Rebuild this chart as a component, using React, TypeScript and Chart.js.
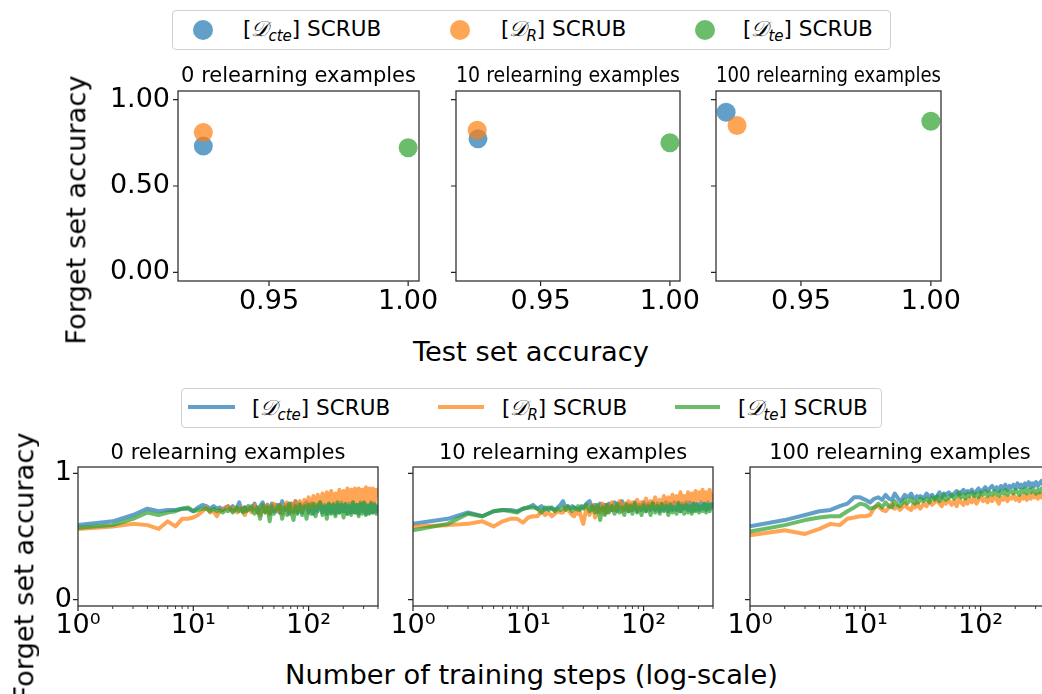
import React, { useEffect, useRef } from "react";
import { Chart, registerables } from "chart.js";

Chart.register(...registerables);

const FONT = "'DejaVu Sans', 'Liberation Sans', sans-serif";

// ---------------- DATA ----------------
const PANEL_TITLES = ["0 relearning examples", "10 relearning examples", "100 relearning examples"];
const SERIES_SUBS = ["cte", "R", "te"];
const SERIES_COLORS = ["rgba(31,119,180,0.7)", "rgba(255,127,14,0.7)", "rgba(44,160,44,0.7)"];

// Top row: test set accuracy (x) vs forget set accuracy (y), order: cte, R, te
const TEST_ACC_0 = [0.9264, 0.9264, 1.0];
const FORGET_ACC_0 = [0.731, 0.81, 0.721];
const TEST_ACC_10 = [0.9258, 0.9255, 1.0];
const FORGET_ACC_10 = [0.773, 0.823, 0.75];
const TEST_ACC_100 = [0.9212, 0.9254, 1.0];
const FORGET_ACC_100 = [0.927, 0.85, 0.875];

const SCATTER_X_TICKS = [0.95, 1.0];
const SCATTER_Y_TICKS = [0, 0.5, 1.0];
const LINE_Y_TICKS = [0, 1];
const LOG_MAJOR_TICKS = [1, 10, 100];
const LOG_MINOR_TICKS = [2, 3, 4, 5, 6, 7, 8, 9, 20, 30, 40, 50, 60, 70, 80, 90, 200, 300, 400];

// Bottom row: training steps (x) vs forget set accuracy
const STEPS = [1, 2, 3, 4, 5, 6, 7, 8, 9, 10, 11, 12, 13, 14, 15, 16, 17, 18, 19, 20, 21, 22, 23, 24, 25, 26, 27, 28, 29, 30,
  32, 34, 36, 38, 40, 42, 44, 46, 48, 50,
  53, 56, 59, 62, 65, 68, 71, 74, 77, 80,
  84, 88, 92, 96, 100,
  105, 110, 115, 120,
  126, 132, 138, 144, 150,
  157, 164, 171, 178, 185,
  193, 201, 209, 217, 225,
  234, 243, 252,
  262, 272, 282, 292,
  303, 314, 325,
  337, 349, 361,
  374, 387, 400];

const CTE_0 = [0.59, 0.62, 0.67, 0.72, 0.70, 0.71, 0.71, 0.72, 0.72, 0.70, 0.73, 0.75, 0.74, 0.72, 0.74, 0.72, 0.73, 0.71, 0.73, 0.74, 0.72, 0.74, 0.71, 0.73, 0.77, 0.72, 0.70, 0.73, 0.71, 0.74,
  0.71, 0.76, 0.69, 0.74, 0.77, 0.70, 0.75, 0.68, 0.76, 0.70,
  0.75, 0.69, 0.78, 0.71, 0.75, 0.68, 0.76, 0.70, 0.78, 0.69,
  0.76, 0.69, 0.75, 0.77, 0.69,
  0.76, 0.68, 0.75, 0.70,
  0.77, 0.69, 0.75, 0.68, 0.76,
  0.69, 0.76, 0.68, 0.75, 0.69,
  0.77, 0.70, 0.75, 0.68, 0.76,
  0.69, 0.77, 0.69,
  0.75, 0.68, 0.77, 0.70,
  0.76, 0.68, 0.75,
  0.69, 0.77, 0.69,
  0.76, 0.70, 0.75];
const R_0 = [0.56, 0.58, 0.60, 0.59, 0.56, 0.62, 0.58, 0.64, 0.64, 0.65, 0.67, 0.70, 0.73, 0.69, 0.70, 0.66, 0.70, 0.72, 0.72, 0.74, 0.71, 0.70, 0.73, 0.69, 0.72, 0.73, 0.70, 0.67, 0.71, 0.73,
  0.69, 0.75, 0.70, 0.67, 0.74, 0.69, 0.75, 0.68, 0.73, 0.76,
  0.70, 0.75, 0.68, 0.74, 0.77, 0.70, 0.76, 0.69, 0.78, 0.72,
  0.78, 0.71, 0.79, 0.73, 0.81,
  0.73, 0.82, 0.74, 0.83,
  0.75, 0.84, 0.76, 0.85, 0.77,
  0.86, 0.76, 0.84, 0.77, 0.87,
  0.77, 0.86, 0.78, 0.88, 0.77,
  0.87, 0.77, 0.88,
  0.78, 0.88, 0.77, 0.87,
  0.78, 0.89, 0.77,
  0.88, 0.78, 0.88,
  0.77, 0.87, 0.81];
const TE_0 = [0.57, 0.59, 0.64, 0.69, 0.67, 0.69, 0.70, 0.72, 0.73, 0.70, 0.71, 0.72, 0.72, 0.70, 0.72, 0.70, 0.71, 0.69, 0.71, 0.70, 0.72, 0.69, 0.71, 0.73, 0.70, 0.72, 0.69, 0.73, 0.70, 0.71,
  0.74, 0.68, 0.73, 0.64, 0.75, 0.69, 0.73, 0.62, 0.74, 0.68,
  0.72, 0.75, 0.64, 0.73, 0.67, 0.76, 0.69, 0.63, 0.74, 0.68,
  0.75, 0.67, 0.74, 0.64, 0.75,
  0.68, 0.76, 0.66, 0.74,
  0.77, 0.67, 0.74, 0.64, 0.76,
  0.68, 0.75, 0.66, 0.77, 0.69,
  0.75, 0.65, 0.76, 0.68, 0.74,
  0.67, 0.77, 0.69,
  0.75, 0.66, 0.76, 0.68,
  0.77, 0.67, 0.74,
  0.68, 0.76, 0.69,
  0.75, 0.68, 0.75];

const CTE_10 = [0.60, 0.64, 0.69, 0.66, 0.70, 0.71, 0.71, 0.70, 0.72, 0.73, 0.75, 0.72, 0.74, 0.71, 0.73, 0.72, 0.71, 0.73, 0.75, 0.78, 0.73, 0.74, 0.72, 0.74, 0.73, 0.72, 0.71, 0.72, 0.74, 0.73,
  0.76, 0.78, 0.71, 0.75, 0.70, 0.76, 0.71, 0.75, 0.69, 0.76,
  0.71, 0.77, 0.70, 0.75, 0.78, 0.71, 0.76, 0.70, 0.75, 0.71,
  0.77, 0.70, 0.75, 0.71, 0.77,
  0.70, 0.76, 0.71, 0.77,
  0.71, 0.76, 0.70, 0.75, 0.71,
  0.77, 0.70, 0.76, 0.71, 0.77,
  0.71, 0.77, 0.70, 0.76, 0.72,
  0.77, 0.71, 0.77,
  0.70, 0.76, 0.71, 0.76,
  0.71, 0.77, 0.72,
  0.76, 0.71, 0.77,
  0.72, 0.76, 0.74];
const R_10 = [0.58, 0.59, 0.60, 0.62, 0.58, 0.62, 0.64, 0.64, 0.61, 0.65, 0.66, 0.66, 0.70, 0.67, 0.69, 0.66, 0.68, 0.70, 0.69, 0.69, 0.72, 0.71, 0.69, 0.67, 0.66, 0.70, 0.68, 0.69, 0.64, 0.60,
  0.73, 0.67, 0.75, 0.65, 0.74, 0.69, 0.76, 0.68, 0.75, 0.70,
  0.77, 0.71, 0.75, 0.78, 0.70, 0.76, 0.72, 0.78, 0.71, 0.77,
  0.73, 0.79, 0.72, 0.77, 0.74,
  0.80, 0.73, 0.78, 0.74,
  0.81, 0.74, 0.79, 0.75, 0.82,
  0.75, 0.81, 0.76, 0.83, 0.76,
  0.82, 0.77, 0.85, 0.76, 0.82,
  0.77, 0.85, 0.78,
  0.84, 0.77, 0.86, 0.79,
  0.85, 0.78, 0.87,
  0.79, 0.85, 0.78,
  0.87, 0.79, 0.84];
const TE_10 = [0.55, 0.60, 0.68, 0.66, 0.70, 0.71, 0.70, 0.69, 0.72, 0.73, 0.73, 0.72, 0.69, 0.73, 0.71, 0.73, 0.70, 0.72, 0.71, 0.73, 0.71, 0.74, 0.72, 0.70, 0.73, 0.72, 0.74, 0.71, 0.73, 0.72,
  0.75, 0.70, 0.74, 0.69, 0.75, 0.63, 0.73, 0.67, 0.75, 0.69,
  0.74, 0.68, 0.76, 0.69, 0.73, 0.67, 0.75, 0.70, 0.74, 0.68,
  0.76, 0.69, 0.73, 0.67, 0.75,
  0.70, 0.74, 0.67, 0.76,
  0.69, 0.74, 0.68, 0.76, 0.70,
  0.74, 0.67, 0.75, 0.69, 0.73,
  0.68, 0.76, 0.70, 0.74, 0.68,
  0.75, 0.69, 0.74,
  0.68, 0.76, 0.70, 0.75,
  0.69, 0.74, 0.70,
  0.76, 0.69, 0.75,
  0.70, 0.75, 0.72];

const CTE_100 = [0.58, 0.63, 0.67, 0.70, 0.71, 0.74, 0.76, 0.81, 0.81, 0.79, 0.77, 0.80, 0.81, 0.79, 0.83, 0.80, 0.79, 0.84, 0.81, 0.78, 0.80, 0.83, 0.81, 0.82, 0.84, 0.81, 0.80, 0.82, 0.81, 0.82,
  0.80, 0.84, 0.81, 0.83, 0.80, 0.82, 0.85, 0.81, 0.84, 0.83,
  0.85, 0.82, 0.84, 0.86, 0.83, 0.85, 0.87, 0.84, 0.86, 0.85,
  0.87, 0.84, 0.86, 0.88, 0.85,
  0.87, 0.89, 0.86, 0.88,
  0.90, 0.87, 0.89, 0.86, 0.90,
  0.88, 0.91, 0.87, 0.90, 0.89,
  0.91, 0.88, 0.92, 0.89, 0.91,
  0.89, 0.92, 0.90,
  0.93, 0.89, 0.92, 0.90,
  0.93, 0.90, 0.92,
  0.94, 0.91, 0.93,
  0.91, 0.94, 0.92];
const R_100 = [0.51, 0.55, 0.52, 0.56, 0.60, 0.59, 0.64, 0.65, 0.66, 0.66, 0.67, 0.73, 0.74, 0.71, 0.70, 0.73, 0.76, 0.72, 0.74, 0.71, 0.73, 0.76, 0.73, 0.72, 0.71, 0.75, 0.73, 0.77, 0.74, 0.72,
  0.76, 0.74, 0.78, 0.75, 0.77, 0.79, 0.76, 0.74, 0.78, 0.76,
  0.79, 0.75, 0.78, 0.74, 0.80, 0.77, 0.75, 0.79, 0.76, 0.80,
  0.77, 0.81, 0.76, 0.79, 0.82,
  0.78, 0.80, 0.77, 0.81,
  0.78, 0.82, 0.79, 0.76, 0.81,
  0.79, 0.82, 0.78, 0.81, 0.80,
  0.83, 0.79, 0.81, 0.78, 0.82,
  0.80, 0.83, 0.79,
  0.82, 0.80, 0.84, 0.81,
  0.83, 0.80, 0.84,
  0.81, 0.83, 0.80,
  0.84, 0.81, 0.83];
const TE_100 = [0.54, 0.59, 0.63, 0.65, 0.66, 0.66, 0.70, 0.73, 0.76, 0.75, 0.72, 0.73, 0.76, 0.73, 0.77, 0.74, 0.73, 0.78, 0.75, 0.74, 0.77, 0.79, 0.76, 0.78, 0.80, 0.77, 0.76, 0.78, 0.77, 0.80,
  0.78, 0.80, 0.77, 0.81, 0.79, 0.82, 0.78, 0.80, 0.83, 0.79,
  0.81, 0.83, 0.80, 0.82, 0.85, 0.81, 0.83, 0.80, 0.84, 0.82,
  0.85, 0.82, 0.84, 0.81, 0.85,
  0.83, 0.86, 0.82, 0.85,
  0.83, 0.86, 0.84, 0.82, 0.86,
  0.84, 0.87, 0.83, 0.85, 0.86,
  0.84, 0.87, 0.85, 0.83, 0.87,
  0.85, 0.88, 0.84,
  0.87, 0.85, 0.88, 0.86,
  0.84, 0.87, 0.85,
  0.88, 0.85, 0.87,
  0.86, 0.88, 0.87];

const SCATTER_SETS = [
  [TEST_ACC_0, FORGET_ACC_0],
  [TEST_ACC_10, FORGET_ACC_10],
  [TEST_ACC_100, FORGET_ACC_100],
];
const LINE_SETS = [
  [CTE_0, R_0, TE_0],
  [CTE_10, R_10, TE_10],
  [CTE_100, R_100, TE_100],
];

// axis limits
const SC_X_MIN = 0.9173, SC_X_MAX = 1.0039;
const Y_MIN = -0.05, Y_MAX = 1.05;
const LOG_X_MIN = 1, LOG_X_MAX = 400;

const SUP = ["\u2070", "\u00B9", "\u00B2", "\u00B3"];

// ---------------- LAYOUT ----------------
type Geo = { left: number; top: number; w: number; h: number; lm: number; rm: number; bm: number; th: number; xpad: number };

const TITLE_SIZE = 21;
const TICK_SIZE = 27;

const TOP_GEOS: Geo[] = [
  { left: 178, top: 91, w: 241, h: 190, lm: 100, rm: 40, bm: 50, th: 27, xpad: 4.5 },
  { left: 456, top: 91, w: 224, h: 190, lm: 15, rm: 40, bm: 50, th: 27, xpad: 4.5 },
  { left: 716, top: 91, w: 225, h: 190, lm: 15, rm: 40, bm: 50, th: 27, xpad: 4.5 },
];
const BOT_GEOS: Geo[] = [
  { left: 78, top: 467, w: 300, h: 139, lm: 75, rm: 25, bm: 50, th: 26, xpad: 3.5 },
  { left: 413, top: 467, w: 300, h: 139, lm: 40, rm: 25, bm: 50, th: 26, xpad: 3.5 },
  { left: 750, top: 467, w: 300, h: 139, lm: 40, rm: 25, bm: 50, th: 26, xpad: 3.5 },
];

function axesPlugin(xMajor: number[], xMinor: number[], yMajor: number[]) {
  return {
    id: "mplAxes",
    afterDraw(chart: any) {
      const { ctx, chartArea: a, scales } = chart;
      const xs = scales.x, ys = scales.y;
      ctx.save();
      ctx.strokeStyle = "#222";
      ctx.lineWidth = 1.2;
      ctx.beginPath();
      for (const v of xMajor) {
        const p = xs.getPixelForValue(v);
        ctx.moveTo(p, a.bottom);
        ctx.lineTo(p, a.bottom + 5);
      }
      for (const v of yMajor) {
        const p = ys.getPixelForValue(v);
        ctx.moveTo(a.left, p);
        ctx.lineTo(a.left - 5, p);
      }
      ctx.stroke();
      ctx.lineWidth = 0.9;
      ctx.beginPath();
      for (const v of xMinor) {
        const p = xs.getPixelForValue(v);
        ctx.moveTo(p, a.bottom);
        ctx.lineTo(p, a.bottom + 3);
      }
      ctx.stroke();
      ctx.strokeStyle = "#333";
      ctx.lineWidth = 1.3;
      ctx.strokeRect(a.left, a.top, a.right - a.left, a.bottom - a.top);
      ctx.restore();
    },
  };
}

function baseOptions(geo: Geo, title: string, xScale: any, yScale: any) {
  return {
    animation: false,
    responsive: false,
    maintainAspectRatio: false,
    events: [],
    layout: { padding: { left: 0, right: geo.rm, top: 0, bottom: 0 } },
    plugins: {
      legend: { display: false },
      tooltip: { enabled: false },
      title: {
        display: true,
        text: title,
        fullSize: false,
        color: "#000",
        font: { family: FONT, size: TITLE_SIZE, weight: "normal", lineHeight: 1.2 },
        padding: { top: 0, bottom: geo.th - TITLE_SIZE * 1.2 },
      },
    },
    scales: {
      x: { ...xScale, afterFit: (s: any) => { s.height = geo.bm; } },
      y: { ...yScale, afterFit: (s: any) => { s.width = geo.lm; } },
    },
  };
}

const tickFont = { family: FONT, size: TICK_SIZE };

function scatterConfig(i: number) {
  const geo = TOP_GEOS[i];
  const [xs, ys] = SCATTER_SETS[i];
  const datasets = SERIES_SUBS.map((s, k) => ({
    label: s,
    data: [{ x: xs[k], y: ys[k] }],
    backgroundColor: SERIES_COLORS[k],
    borderWidth: 0,
    pointRadius: 9.5,
    pointHoverRadius: 9.5,
    order: 3 - k,
  }));
  const xScale = {
    type: "linear",
    min: SC_X_MIN,
    max: SC_X_MAX,
    grid: { display: false, drawTicks: false },
    border: { display: false },
    afterBuildTicks: (s: any) => { s.ticks = SCATTER_X_TICKS.map((v) => ({ value: v })); },
    ticks: { padding: geo.xpad, color: "#000", font: tickFont, autoSkip: false, maxRotation: 0, minRotation: 0, callback: (v: any) => Number(v).toFixed(2) },
  };
  const yScale = {
    type: "linear",
    min: Y_MIN,
    max: Y_MAX,
    grid: { display: false, drawTicks: false },
    border: { display: false },
    afterBuildTicks: (s: any) => { s.ticks = SCATTER_Y_TICKS.map((v) => ({ value: v })); },
    ticks: { display: i === 0, padding: 8, color: "#000", font: tickFont, autoSkip: false, callback: (v: any) => Number(v).toFixed(2) },
  };
  return {
    type: "scatter",
    data: { datasets },
    options: baseOptions(geo, PANEL_TITLES[i], xScale, yScale),
    plugins: [axesPlugin(SCATTER_X_TICKS, [], SCATTER_Y_TICKS)],
  };
}

function lineConfig(i: number) {
  const geo = BOT_GEOS[i];
  const sets = LINE_SETS[i];
  const datasets = SERIES_SUBS.map((s, k) => ({
    label: s,
    data: STEPS.map((x, j) => ({ x, y: sets[k][j] })),
    borderColor: SERIES_COLORS[k],
    backgroundColor: SERIES_COLORS[k],
    borderWidth: 4,
    pointRadius: 0,
    tension: 0,
    fill: false,
    borderJoinStyle: "round",
    borderCapStyle: "butt",
    clip: 0,
    order: 3 - k,
  }));
  const xScale = {
    type: "logarithmic",
    min: LOG_X_MIN,
    max: LOG_X_MAX,
    grid: { display: false, drawTicks: false },
    border: { display: false },
    afterBuildTicks: (s: any) => { s.ticks = LOG_MAJOR_TICKS.map((v) => ({ value: v })); },
    ticks: {
      padding: geo.xpad, color: "#000", font: tickFont, autoSkip: false, maxRotation: 0, minRotation: 0,
      callback: (v: any) => "10" + SUP[Math.round(Math.log10(Number(v)))],
    },
  };
  const yScale = {
    type: "linear",
    min: Y_MIN,
    max: Y_MAX,
    grid: { display: false, drawTicks: false },
    border: { display: false },
    afterBuildTicks: (s: any) => { s.ticks = LINE_Y_TICKS.map((v) => ({ value: v })); },
    ticks: { display: i === 0, padding: 6, color: "#000", font: tickFont, autoSkip: false, callback: (v: any) => String(Number(v)) },
  };
  return {
    type: "line",
    data: { datasets },
    options: baseOptions(geo, PANEL_TITLES[i], xScale, yScale),
    plugins: [axesPlugin(LOG_MAJOR_TICKS, LOG_MINOR_TICKS, LINE_Y_TICKS)],
  };
}

function Panel({ geo, make }: { geo: Geo; make: () => any }) {
  const ref = useRef<HTMLCanvasElement>(null);
  const W = geo.lm + geo.w + geo.rm;
  const H = geo.th + geo.h + geo.bm;
  useEffect(() => {
    const chart = new Chart(ref.current as HTMLCanvasElement, make());
    return () => chart.destroy();
  }, []);
  return (
    <canvas
      ref={ref}
      width={W}
      height={H}
      style={{ position: "absolute", left: geo.left - geo.lm, top: geo.top - geo.th, width: W, height: H }}
    />
  );
}

function SeriesLabel({ sub }: { sub: string }) {
  return (
    <span>
      [<span style={{ fontStyle: "italic" }}>{"\u{1D49F}"}</span>
      <span style={{ fontStyle: "italic", fontSize: "0.7em", position: "relative", top: "0.3em" }}>{sub}</span>] SCRUB
    </span>
  );
}

const TOP_LEG_MARKERS = [203, 460, 705];
const TOP_LEG_TEXT = [243, 501, 743];
const BOT_LEG_HANDLES = [[188, 235], [438, 484], [675, 720]];
const BOT_LEG_TEXT = [252, 502, 738];

function legendText(left: number, cy: number, sub: string) {
  return (
    <div
      key={"t" + sub + cy}
      style={{ position: "absolute", left, top: cy - 15, height: 30, display: "flex", alignItems: "center", fontSize: 21.5, whiteSpace: "nowrap", color: "#000" }}
    >
      <SeriesLabel sub={sub} />
    </div>
  );
}

export default function App() {
  const axisLabel: React.CSSProperties = { position: "absolute", fontSize: 27.3, lineHeight: 1, whiteSpace: "nowrap", color: "#000" };
  return (
    <div style={{ position: "fixed", left: 0, top: 0, width: 1042, height: 694, overflow: "hidden", background: "#fff", fontFamily: FONT }}>
      {TOP_GEOS.map((g, i) => <Panel key={"s" + i} geo={g} make={() => scatterConfig(i)} />)}
      {BOT_GEOS.map((g, i) => <Panel key={"l" + i} geo={g} make={() => lineConfig(i)} />)}

      {/* top legend */}
      <div style={{ position: "absolute", left: 171.5, top: 9.5, width: 719.5, height: 40.5, border: "1px solid #d0d0d0", borderRadius: 4, boxSizing: "border-box", background: "rgba(255,255,255,0.8)" }} />
      {SERIES_SUBS.map((s, k) => (
        <div key={"m" + k} style={{ position: "absolute", left: TOP_LEG_MARKERS[k] - 10, top: 20, width: 20, height: 20, borderRadius: "50%", background: SERIES_COLORS[k] }} />
      ))}
      {SERIES_SUBS.map((s, k) => legendText(TOP_LEG_TEXT[k], 28.6, s))}

      {/* bottom legend */}
      <div style={{ position: "absolute", left: 180.5, top: 387.5, width: 701.5, height: 40, border: "1px solid #d0d0d0", borderRadius: 4, boxSizing: "border-box", background: "rgba(255,255,255,0.8)" }} />
      {SERIES_SUBS.map((s, k) => (
        <div key={"h" + k} style={{ position: "absolute", left: BOT_LEG_HANDLES[k][0], top: 405, width: BOT_LEG_HANDLES[k][1] - BOT_LEG_HANDLES[k][0], height: 3.5, background: SERIES_COLORS[k] }} />
      ))}
      {SERIES_SUBS.map((s, k) => legendText(BOT_LEG_TEXT[k], 407.6, s))}

      {/* axis labels */}
      <div style={{ ...axisLabel, left: 75.5, top: 210, transform: "translate(-50%, -50%) rotate(-90deg)" }}>Forget set accuracy</div>
      <div style={{ ...axisLabel, left: 531, top: 352.3, transform: "translate(-50%, -50%)" }}>Test set accuracy</div>
      <div style={{ ...axisLabel, left: 24, top: 567, transform: "translate(-50%, -50%) rotate(-90deg)" }}>Forget set accuracy</div>
      <div style={{ ...axisLabel, left: 531.5, top: 674.6, transform: "translate(-50%, -50%)" }}>Number of training steps (log-scale)</div>
    </div>
  );
}
